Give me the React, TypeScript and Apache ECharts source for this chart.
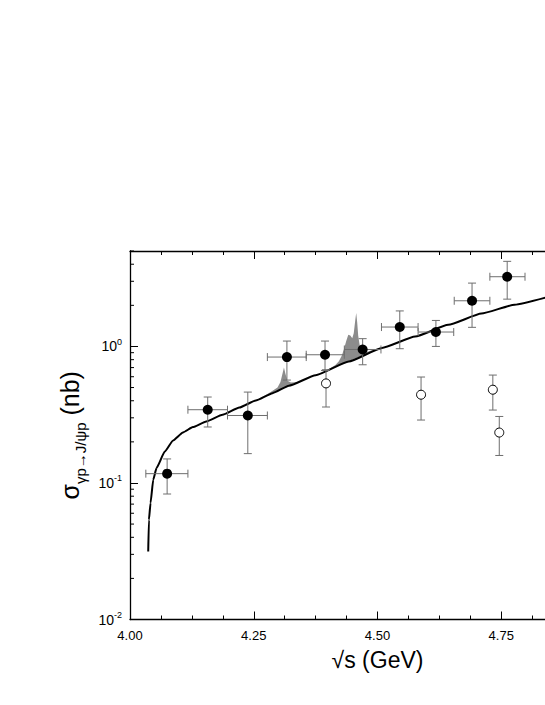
import React, { useEffect, useRef } from 'react';
import * as echarts from 'echarts';

// Model curve
const curveX = [4.0368, 4.0382, 4.0415, 4.0469, 4.0535, 4.0703, 4.087, 4.107, 4.127, 4.154, 4.187, 4.221, 4.254, 4.288, 4.321, 4.375, 4.442, 4.509, 4.576, 4.643, 4.71, 4.777, 4.84];
const curveY = [0.0315, 0.0537, 0.0713, 0.1055, 0.1285, 0.17, 0.205, 0.2345, 0.2565, 0.282, 0.316, 0.357, 0.402, 0.455, 0.515, 0.615, 0.775, 0.975, 1.18, 1.44, 1.74, 2.02, 2.28];

// Filled data points
const filledX = [4.075, 4.157, 4.238, 4.317, 4.394, 4.47, 4.545, 4.618, 4.691, 4.762];
const filledY = [0.117, 0.344, 0.312, 0.836, 0.869, 0.95, 1.387, 1.275, 2.16, 3.24];
const filledXLo = [4.032, 4.117, 4.197, 4.2775, 4.356, 4.433, 4.508, 4.582, 4.655, 4.727];
const filledXHi = [4.117, 4.197, 4.2775, 4.356, 4.433, 4.507, 4.582, 4.654, 4.727, 4.798];
const filledYLo = [0.083, 0.257, 0.164, 0.567, 0.667, 0.734, 0.962, 1.0, 1.38, 2.22];
const filledYHi = [0.15, 0.426, 0.463, 1.095, 1.095, 1.14, 1.82, 1.55, 2.91, 4.2];

// Open data points
const openX = [4.396, 4.588, 4.733, 4.746];
const openY = [0.536, 0.443, 0.482, 0.234];
const openYLo = [0.36, 0.289, 0.342, 0.159];
const openYHi = [0.675, 0.597, 0.617, 0.307];

// Shaded resonance structures
const shade1X = [4.265, 4.285, 4.298, 4.304, 4.308, 4.311, 4.314, 4.318, 4.325, 4.34];
const shade1Lo = [0.42, 0.45, 0.475, 0.485, 0.492, 0.497, 0.503, 0.51, 0.522, 0.55];
const shade1Hi = [0.42, 0.465, 0.5, 0.55, 0.63, 0.7, 0.63, 0.56, 0.545, 0.55];
const shade2X = [4.395, 4.405, 4.415, 4.422, 4.428, 4.432, 4.437, 4.441, 4.445, 4.449, 4.452, 4.455, 4.457, 4.459, 4.461, 4.464, 4.468, 4.48, 4.49, 4.5, 4.51];
const shade2Lo = [0.66, 0.685, 0.71, 0.728, 0.744, 0.755, 0.768, 0.778, 0.789, 0.8, 0.808, 0.816, 0.822, 0.828, 0.834, 0.842, 0.853, 0.888, 0.918, 0.948, 0.98];
const shade2Hi = [0.66, 0.695, 0.73, 0.78, 0.86, 0.95, 1.1, 1.22, 1.2, 1.15, 1.25, 1.55, 1.76, 1.5, 1.2, 1.02, 0.93, 0.915, 0.94, 0.962, 0.98];

const xTicks = [4.0, 4.25, 4.5, 4.75];
const decades = [0.01, 0.1, 1];

export default function App() {
  const ref = useRef<HTMLDivElement>(null);
  useEffect(() => {
    const chart = echarts.init(ref.current!, null, { renderer: 'svg' });
    const shades = [
      { x: shade1X, lo: shade1Lo, hi: shade1Hi },
      { x: shade2X, lo: shade2Lo, hi: shade2Hi },
    ];
    const minorVals: number[] = [];
    decades.forEach((d) => {
      for (let m = 2; m <= 9; m++) {
        if (d * m <= 5) minorVals.push(d * m);
      }
    });
    const errData = filledX.map((x, i) => [x, filledY[i], filledXLo[i], filledXHi[i], filledYLo[i], filledYHi[i]])
      .concat(openX.map((x, i) => [x, openY[i], x, x, openYLo[i], openYHi[i]]));

    const tickStyle = { color: '#000', width: 1 };
    const font = 'Liberation Sans, Arial, sans-serif';

    const option: any = {
      animation: false,
      textStyle: { fontFamily: font },
      grid: { left: 130, right: 0, top: 251, bottom: 85.5 },
      xAxis: [
        {
          type: 'value', position: 'bottom', min: 4, max: 5, interval: 0.25,
          axisLine: { show: true, lineStyle: { color: '#000', width: 1.3 } },
          axisTick: { show: true, inside: true, length: 8, lineStyle: tickStyle },
          minorTick: { show: true, splitNumber: 4, length: 4, lineStyle: tickStyle },
          splitLine: { show: false },
          axisLabel: {
            color: '#000', fontSize: 13, margin: 9, fontFamily: font,
            formatter: (v: number) => (xTicks.some((t) => Math.abs(t - v) < 1e-6) ? v.toFixed(2) : ''),
          },
          name: '√s (GeV)', nameLocation: 'middle', nameGap: 29,
          nameTextStyle: { fontSize: 23, color: '#000', fontFamily: font },
        },
        {
          type: 'value', position: 'top', min: 4, max: 5, interval: 0.25,
          axisLine: { show: true, onZero: false, lineStyle: { color: '#000', width: 1.3 } },
          axisTick: { show: true, inside: true, length: 8, lineStyle: tickStyle },
          minorTick: { show: true, splitNumber: 4, length: 4, lineStyle: tickStyle },
          splitLine: { show: false },
          axisLabel: { show: false },
        },
      ],
      yAxis: {
        type: 'log', logBase: 10, min: 0.01, max: 5,
        axisLine: { show: true, lineStyle: { color: '#000', width: 1.3 } },
        axisTick: { show: true, inside: true, length: 8, lineStyle: tickStyle },
        splitLine: { show: false },
        axisLabel: {
          color: '#000', margin: 8,
          formatter: (v: number) => {
            const e = Math.log10(v);
            const r = Math.round(e);
            if (Math.abs(e - r) > 1e-6) return '';
            return `{b|10}{s|${r}}`;
          },
          rich: {
            b: { fontSize: 14, color: '#000', lineHeight: 18, fontFamily: font },
            s: { fontSize: 9, color: '#000', lineHeight: 10, verticalAlign: 'top', fontFamily: font },
          },
        },
        name: '{m|σ}{sub|γp→J/ψp}{m| (nb)}',
        nameLocation: 'middle', nameRotate: 90, nameGap: 36,
        nameTextStyle: {
          color: '#000',
          rich: {
            m: { fontSize: 25, color: '#000', lineHeight: 36, fontFamily: font },
            sub: { fontSize: 15, color: '#000', lineHeight: 15, verticalAlign: 'bottom', fontFamily: font },
          },
        },
      },
      series: [
        {
          type: 'custom', z: 1, silent: true,
          data: [[4.31, 0.5, 0], [4.45, 0.8, 1]],
          encode: { x: 0, y: 1 },
          renderItem: (params: any, api: any) => {
            const s = shades[api.value(2)];
            const top = s.x.map((x, i) => api.coord([x, s.hi[i]]));
            const bot = s.x.map((x, i) => api.coord([x, s.lo[i]])).reverse();
            return { type: 'polygon', shape: { points: top.concat(bot) }, style: { fill: '#8c8c8c', stroke: 'none' } };
          },
        },
        {
          type: 'line', z: 2, silent: true,
          data: curveX.map((x, i) => [x, curveY[i]]),
          showSymbol: false, symbol: 'none', smooth: 0.15, smoothMonotone: 'x',
          lineStyle: { color: '#000', width: 2 },
        },
        {
          type: 'custom', z: 3, silent: true,
          data: errData,
          dimensions: ['x', 'y', 'xl', 'xh', 'yl', 'yh'],
          encode: { x: 0, y: 1 },
          renderItem: (params: any, api: any) => {
            const x = api.value(0), y = api.value(1);
            const xl = api.value(2), xh = api.value(3), yl = api.value(4), yh = api.value(5);
            const st = { stroke: '#6e6e6e', lineWidth: 1 };
            const ch: any[] = [];
            const cap = 4;
            if (xh - xl > 1e-6) {
              const a = api.coord([xl, y]), b = api.coord([xh, y]);
              ch.push({ type: 'line', shape: { x1: a[0], y1: a[1], x2: b[0], y2: b[1] }, style: st });
              ch.push({ type: 'line', shape: { x1: a[0], y1: a[1] - cap, x2: a[0], y2: a[1] + cap }, style: st });
              ch.push({ type: 'line', shape: { x1: b[0], y1: b[1] - cap, x2: b[0], y2: b[1] + cap }, style: st });
            }
            const t = api.coord([x, yh]), bt = api.coord([x, yl]);
            ch.push({ type: 'line', shape: { x1: t[0], y1: t[1], x2: bt[0], y2: bt[1] }, style: st });
            ch.push({ type: 'line', shape: { x1: t[0] - cap, y1: t[1], x2: t[0] + cap, y2: t[1] }, style: st });
            ch.push({ type: 'line', shape: { x1: bt[0] - cap, y1: bt[1], x2: bt[0] + cap, y2: bt[1] }, style: st });
            return { type: 'group', children: ch };
          },
        },
        {
          type: 'custom', z: 3, silent: true,
          data: minorVals.map((v) => [4, v]),
          encode: { x: 0, y: 1 },
          renderItem: (params: any, api: any) => {
            const p = api.coord([api.value(0), api.value(1)]);
            return { type: 'line', shape: { x1: p[0], y1: p[1], x2: p[0] + 4, y2: p[1] }, style: { stroke: '#000', lineWidth: 1 } };
          },
        },
        {
          type: 'scatter', z: 4, silent: true,
          data: filledX.map((x, i) => [x, filledY[i]]),
          symbol: 'circle', symbolSize: 10,
          itemStyle: { color: '#000', opacity: 1 },
        },
        {
          type: 'scatter', z: 4, silent: true,
          data: openX.map((x, i) => [x, openY[i]]),
          symbol: 'circle', symbolSize: 9,
          itemStyle: { color: '#fff', borderColor: '#000', borderWidth: 1, opacity: 1 },
        },
      ],
    };
    chart.setOption(option);
    return () => chart.dispose();
  }, []);
  return (
    <div style={{ position: 'absolute', left: 0, top: 0, width: 545, height: 705, overflow: 'hidden', background: '#fff' }}>
      <div ref={ref} style={{ position: 'absolute', left: 0, top: 0, width: 628, height: 705 }} />
    </div>
  );
}
